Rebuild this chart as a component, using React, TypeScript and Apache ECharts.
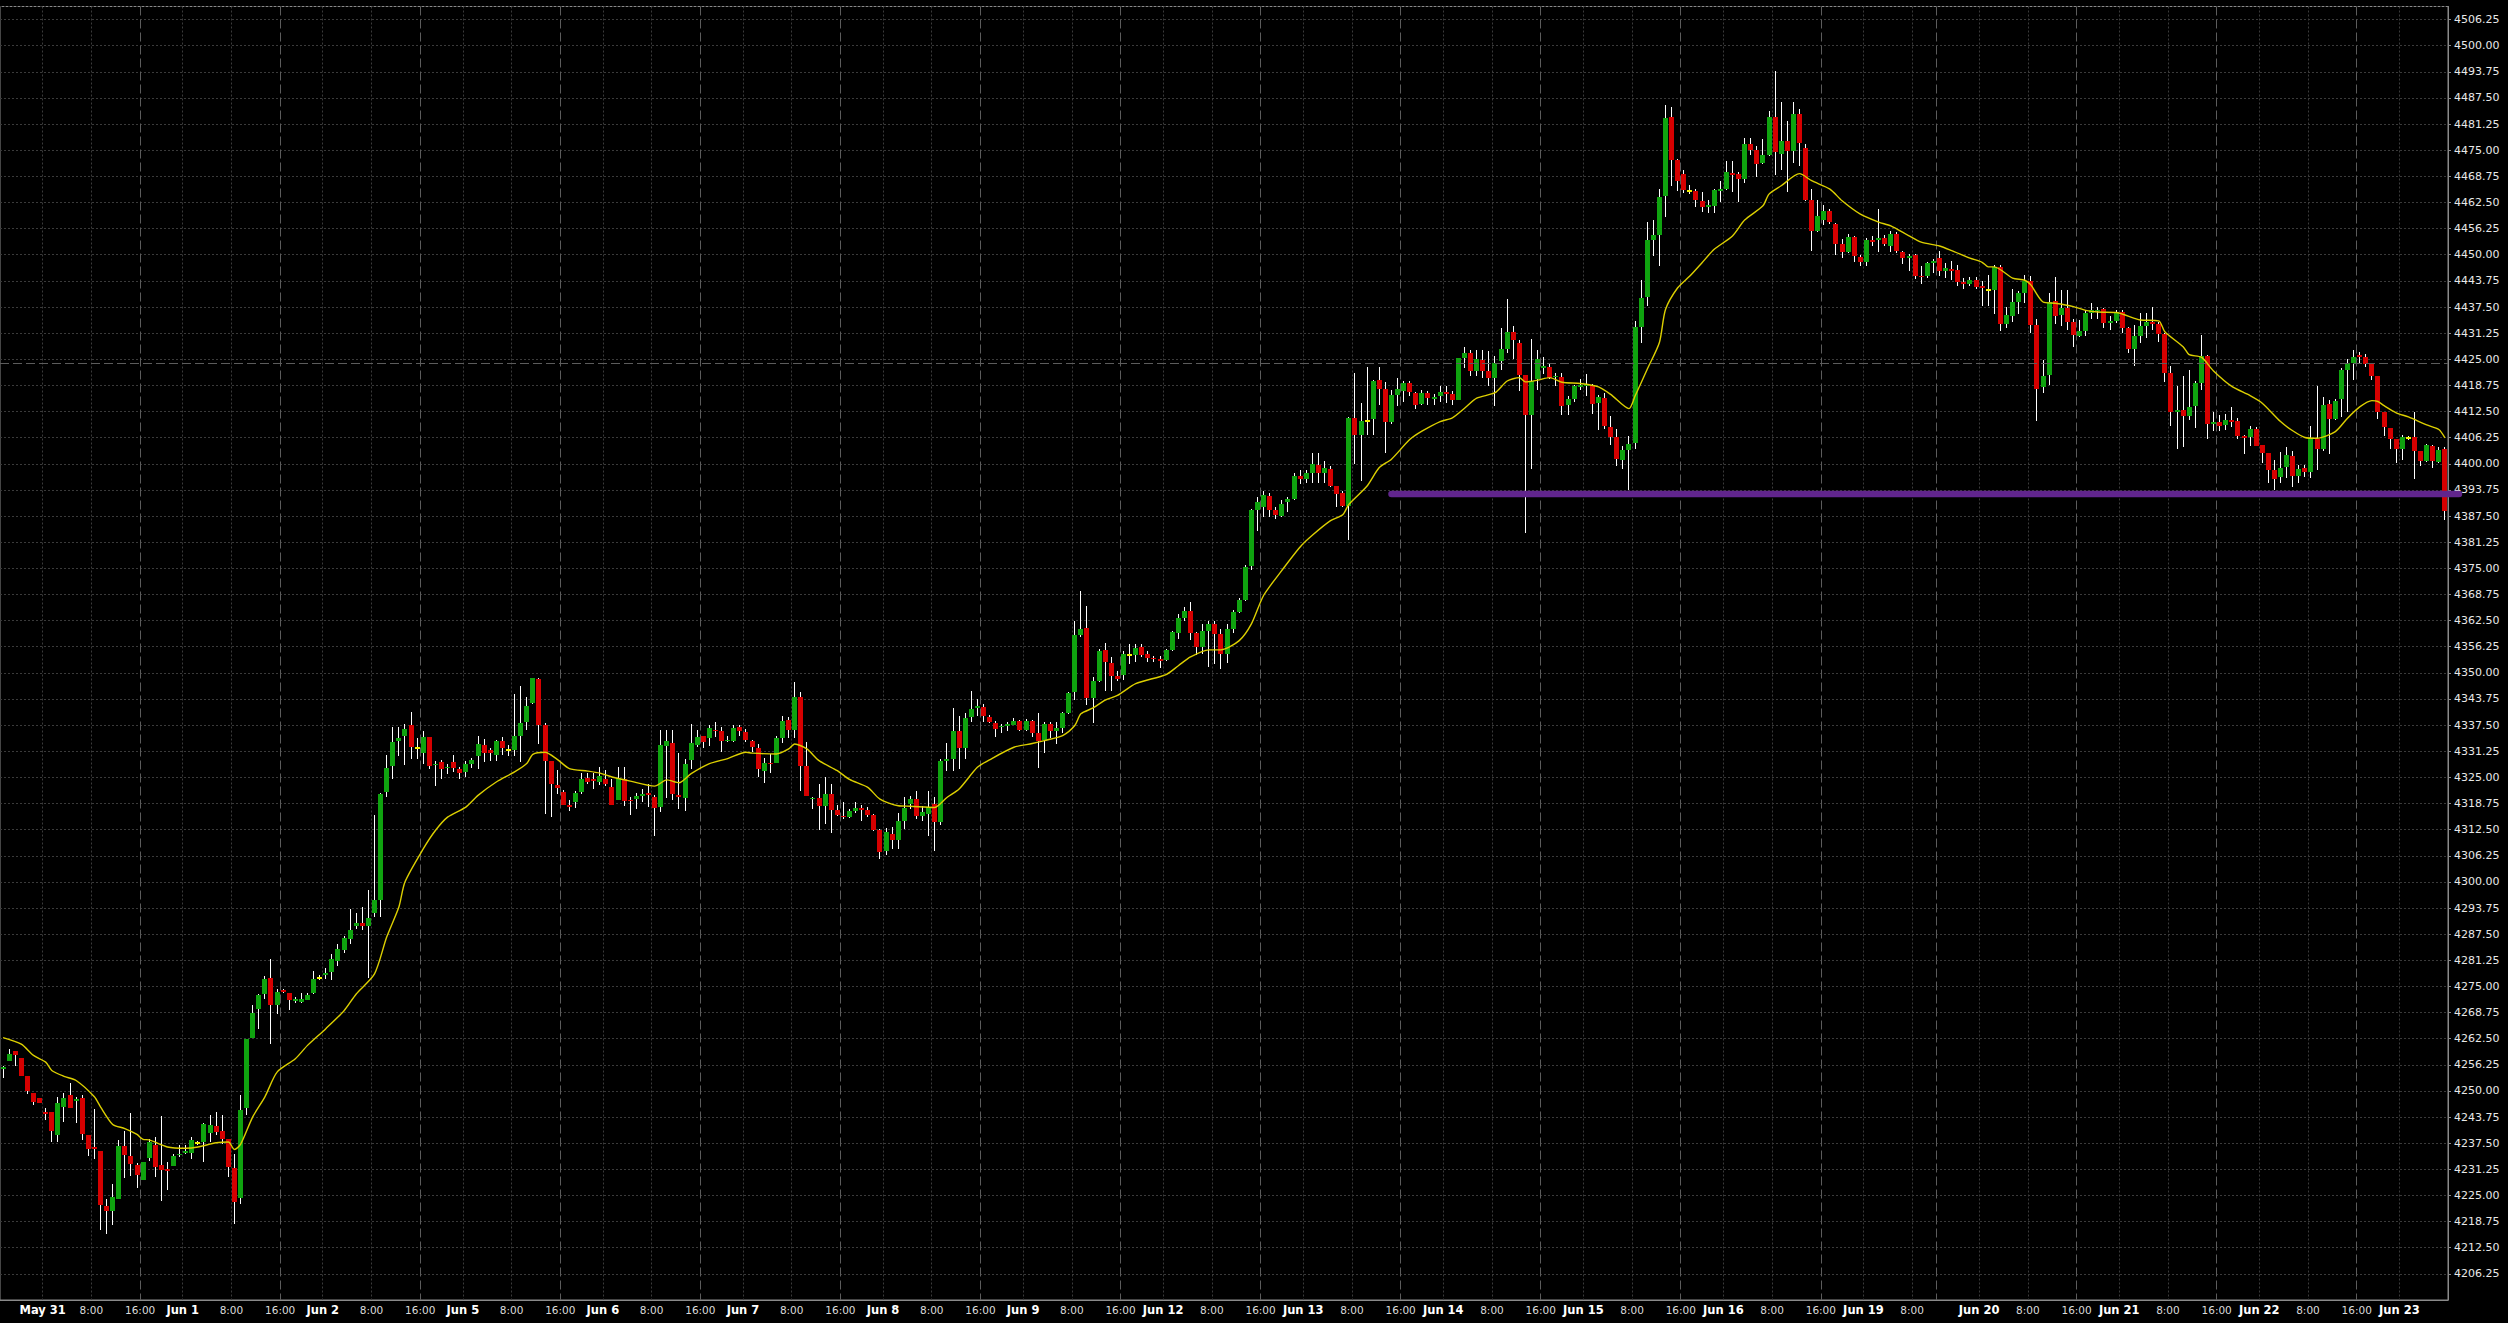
import React, { useEffect, useRef } from 'react';
import * as echarts from 'echarts';

// ---------- time axis (hourly bars) ----------
const dayLabels = ['May 31', 'Jun 1', 'Jun 2', 'Jun 5', 'Jun 6', 'Jun 7', 'Jun 8', 'Jun 9', 'Jun 12', 'Jun 13', 'Jun 14', 'Jun 15', 'Jun 16', 'Jun 19', 'Jun 20', 'Jun 21', 'Jun 22', 'Jun 23'];
const barsPerDay = [23, 23, 23, 23, 23, 23, 23, 23, 23, 23, 23, 23, 23, 19, 23, 23, 23, 8];
const sessionLineHour = [16, 16, 16, 16, 16, 16, 16, 16, 16, 16, 16, 16, 16, 12, 16, 16, 16, -1];
const leadingBars = 7; // May 30, 16:00 - 22:00

// ---------- price axis ----------
const yMin = 4200;
const yMax = 4509.375;
const yStep = 6.25;

// ---------- OHLC ----------
const open = [
  4255.25, 4257.25, 4259.5, 4258.0, 4253.5, 4249.5, 4248.25, 4245.0, 4245.0, 4239.5,
  4246.25, 4249.0, 4247.5, 4248.25, 4239.5, 4236.5, 4235.75, 4222.5, 4221.25, 4224.25,
  4236.75, 4234.5, 4232.25, 4228.75, 4234.0, 4237.0, 4232.25, 4231.25, 4232.0, 4234.75,
  4235.25, 4235.25, 4237.5, 4237.75, 4240.0, 4241.5, 4240.5, 4238.5, 4231.5, 4224.5,
  4246.0, 4262.75, 4269.5, 4273.25, 4277.0, 4270.5, 4274.25, 4273.5, 4271.5, 4271.25,
  4271.75, 4273.5, 4277.0, 4277.75, 4278.5, 4281.0, 4283.75, 4286.25, 4289.5, 4290.25,
  4289.5, 4292.5, 4295.75, 4321.5, 4327.75, 4333.75, 4335.0, 4337.5, 4332.0, 4330.75,
  4334.75, 4328.0, 4328.75, 4327.25, 4328.75, 4327.0, 4326.25, 4328.25, 4330.0, 4332.75,
  4331.5, 4330.25, 4333.75, 4331.5, 4331.5, 4335.0, 4338.25, 4342.75, 4348.5, 4337.5,
  4329.0, 4323.25, 4321.5, 4318.5, 4319.0, 4321.5, 4324.75, 4324.5, 4324.0, 4324.5,
  4322.75, 4319.5, 4324.5, 4319.5, 4319.75, 4320.5, 4321.25, 4320.25, 4318.0, 4332.5,
  4333.25, 4320.75, 4320.0, 4329.25, 4332.75, 4335.0, 4334.5, 4336.25, 4336.0, 4333.75,
  4333.75, 4337.0, 4335.75, 4333.75, 4332.0, 4326.5, 4328.5, 4328.5, 4334.5, 4338.75,
  4336.25, 4344.25, 4327.75, 4319.75, 4320.0, 4318.25, 4321.0, 4317.25, 4315.75, 4315.5,
  4317.0, 4317.75, 4317.25, 4316.0, 4312.5, 4307.5, 4311.5, 4310.0, 4314.5, 4318.75,
  4319.75, 4315.75, 4316.25, 4318.75, 4314.25, 4329.0, 4329.5, 4336.0, 4332.0, 4339.5,
  4341.5, 4341.75, 4339.5, 4338.0, 4337.0, 4337.25, 4337.5, 4338.5, 4336.25, 4338.5,
  4335.5, 4334.0, 4337.75, 4336.0, 4336.75, 4340.5, 4345.5, 4359.0, 4360.75, 4344.0,
  4348.0, 4355.5, 4352.25, 4349.25, 4349.5, 4354.25, 4354.25, 4356.25, 4354.5, 4353.5,
  4353.25, 4353.0, 4355.5, 4359.5, 4363.0, 4364.75, 4359.5, 4356.25, 4360.0, 4361.75,
  4359.25, 4354.5, 4360.5, 4364.5, 4367.5, 4375.5, 4389.0, 4389.75, 4392.25, 4389.0,
  4387.5, 4390.75, 4391.5, 4397.0, 4396.25, 4397.75, 4399.75, 4397.75, 4398.75, 4394.75,
  4393.0, 4390.0, 4411.0, 4407.0, 4410.25, 4410.75, 4420.0, 4418.0, 4410.0, 4416.5,
  4417.5, 4419.25, 4417.0, 4414.25, 4417.0, 4415.5, 4416.25, 4417.25, 4416.75, 4415.25,
  4425.25, 4426.5, 4422.25, 4424.75, 4422.25, 4420.5, 4424.5, 4427.5, 4431.5, 4429.0,
  4421.25, 4411.75, 4420.25, 4423.0, 4423.25, 4420.75, 4420.75, 4414.0, 4415.5, 4418.25,
  4418.5, 4418.75, 4414.5, 4415.75, 4408.75, 4406.5, 4401.0, 4403.25, 4405.0, 4432.75,
  4440.0, 4453.5, 4454.75, 4464.0, 4483.0, 4472.75, 4469.25, 4465.25, 4465.25, 4462.75,
  4461.5, 4461.75, 4465.25, 4465.75, 4469.5, 4469.25, 4468.0, 4476.5, 4475.0, 4472.0,
  4473.75, 4483.0, 4474.0, 4477.25, 4474.75, 4483.75, 4475.5, 4463.0, 4455.75, 4458.25,
  4460.5, 4457.25, 4452.5, 4450.75, 4454.25, 4449.5, 4448.25, 4453.5, 4453.5, 4454.0,
  4452.0, 4455.0, 4450.75, 4449.25, 4450.0, 4445.0, 4445.0, 4448.0, 4449.25, 4446.0,
  4446.5, 4446.25, 4443.5, 4443.0, 4444.0, 4442.5, 4441.5, 4441.5, 4447.0, 4433.5,
  4435.25, 4438.75, 4440.75, 4443.75, 4433.25, 4418.25, 4421.25, 4439.0, 4435.5, 4437.25,
  4434.0, 4430.5, 4431.75, 4436.0, 4436.5, 4437.0, 4433.75, 4434.25, 4436.25, 4432.5,
  4427.5, 4430.5, 4433.0, 4434.0, 4433.5, 4431.0, 4421.75, 4412.5, 4412.75, 4411.5,
  4413.75, 4419.25, 4425.75, 4409.5, 4410.0, 4409.25, 4410.5, 4410.25, 4406.75, 4406.5,
  4408.25, 4404.5, 4402.5, 4398.5, 4396.75, 4399.25, 4401.75, 4397.0, 4399.0, 4398.0,
  4406.0, 4403.5, 4414.25, 4410.75, 4415.5, 4422.5, 4424.0, 4426.0, 4425.5, 4423.75,
  4421.0, 4412.5, 4408.5, 4406.0, 4403.5, 4406.25, 4406.5, 4403.0, 4400.75, 4404.25,
  4400.5, 4403.5,
];
const high = [
  4256.0, 4260.0, 4259.5, 4258.0, 4253.5, 4249.5, 4248.25, 4246.0, 4245.0, 4248.5,
  4249.5, 4252.0, 4248.5, 4249.0, 4239.5, 4245.75, 4235.75, 4224.25, 4227.75, 4238.25,
  4240.5, 4244.75, 4232.75, 4233.0, 4238.5, 4239.0, 4244.0, 4233.0, 4235.0, 4237.0,
  4237.0, 4239.0, 4238.0, 4242.25, 4244.25, 4245.0, 4244.25, 4238.5, 4235.0, 4249.0,
  4262.5, 4270.5, 4273.25, 4277.5, 4281.5, 4274.5, 4274.5, 4273.5, 4272.5, 4273.5,
  4273.5, 4278.75, 4277.75, 4279.5, 4282.75, 4285.25, 4287.0, 4293.5, 4292.5, 4294.0,
  4298.0, 4316.0, 4321.25, 4330.25, 4337.0, 4337.0, 4337.75, 4340.75, 4334.5, 4336.0,
  4334.75, 4329.0, 4329.25, 4328.25, 4330.25, 4327.5, 4329.0, 4329.75, 4335.0, 4334.25,
  4332.0, 4334.0, 4334.75, 4332.75, 4345.0, 4346.75, 4344.25, 4348.75, 4348.75, 4338.0,
  4329.0, 4326.75, 4322.0, 4319.5, 4321.75, 4326.0, 4326.0, 4326.0, 4327.5, 4326.75,
  4324.5, 4327.5, 4327.5, 4320.25, 4321.25, 4322.25, 4323.5, 4320.75, 4336.25, 4336.25,
  4336.25, 4330.75, 4329.5, 4337.75, 4336.25, 4335.0, 4337.5, 4338.25, 4337.0, 4335.0,
  4337.5, 4337.5, 4336.5, 4334.0, 4333.0, 4329.75, 4330.5, 4335.0, 4339.75, 4339.5,
  4347.75, 4345.5, 4333.5, 4320.25, 4323.5, 4325.0, 4323.5, 4318.5, 4319.0, 4317.5,
  4319.0, 4318.5, 4318.0, 4316.25, 4312.75, 4313.0, 4313.25, 4316.5, 4320.25, 4320.5,
  4321.75, 4318.25, 4321.75, 4320.25, 4329.5, 4333.25, 4341.5, 4339.75, 4340.5, 4345.75,
  4343.75, 4342.5, 4340.0, 4338.5, 4337.75, 4338.25, 4339.25, 4338.75, 4339.0, 4338.75,
  4340.5, 4338.25, 4338.25, 4338.25, 4340.75, 4345.5, 4362.5, 4369.5, 4366.0, 4349.0,
  4355.75, 4357.25, 4353.75, 4350.5, 4355.25, 4357.0, 4357.0, 4357.0, 4355.25, 4354.0,
  4354.0, 4355.75, 4360.0, 4364.0, 4365.75, 4367.0, 4359.75, 4361.75, 4362.5, 4362.5,
  4360.5, 4361.75, 4365.0, 4368.0, 4375.75, 4389.25, 4392.0, 4393.5, 4393.0, 4389.75,
  4391.25, 4392.0, 4397.75, 4398.5, 4398.5, 4402.5, 4402.5, 4400.75, 4399.5, 4394.75,
  4393.5, 4411.25, 4421.75, 4414.5, 4423.25, 4420.0, 4423.25, 4419.5, 4417.75, 4420.5,
  4419.75, 4419.75, 4417.25, 4417.75, 4417.5, 4416.75, 4418.5, 4418.5, 4417.5, 4425.25,
  4428.0, 4427.25, 4427.25, 4427.25, 4427.0, 4425.75, 4432.5, 4439.5, 4433.0, 4429.5,
  4421.25, 4429.75, 4427.25, 4425.5, 4423.75, 4421.75, 4421.75, 4416.25, 4418.75, 4420.25,
  4421.5, 4419.0, 4416.5, 4417.0, 4411.5, 4408.25, 4404.25, 4406.75, 4434.25, 4444.0,
  4457.75, 4458.25, 4465.75, 4485.75, 4485.25, 4473.0, 4470.25, 4466.75, 4465.75, 4465.0,
  4463.0, 4465.75, 4467.75, 4472.5, 4472.5, 4469.75, 4478.0, 4478.0, 4476.0, 4477.75,
  4484.5, 4494.0, 4486.5, 4482.0, 4486.5, 4484.75, 4476.5, 4465.75, 4463.0, 4462.0,
  4461.0, 4457.5, 4453.75, 4455.0, 4454.5, 4450.0, 4454.0, 4454.5, 4461.0, 4454.75,
  4455.75, 4455.5, 4451.0, 4450.25, 4450.25, 4447.25, 4448.25, 4449.0, 4451.0, 4448.0,
  4448.5, 4447.5, 4444.5, 4444.75, 4444.75, 4443.75, 4445.25, 4447.5, 4447.5, 4437.5,
  4441.75, 4441.25, 4445.25, 4445.0, 4434.75, 4424.75, 4440.75, 4444.75, 4441.5, 4441.5,
  4434.75, 4434.5, 4436.75, 4438.5, 4437.5, 4437.25, 4435.25, 4436.75, 4436.75, 4432.75,
  4433.25, 4436.0, 4436.0, 4437.5, 4434.0, 4431.25, 4423.5, 4418.5, 4421.0, 4422.5,
  4419.75, 4430.75, 4426.0, 4412.5, 4411.75, 4412.0, 4413.5, 4411.0, 4407.0, 4409.0,
  4408.75, 4404.5, 4402.5, 4401.0, 4402.75, 4404.0, 4403.0, 4399.75, 4399.75, 4409.0,
  4418.5, 4416.0, 4415.25, 4415.5, 4423.0, 4425.0, 4427.25, 4426.75, 4426.25, 4423.75,
  4421.0, 4412.5, 4408.5, 4406.0, 4407.0, 4406.75, 4412.5, 4403.0, 4404.75, 4404.5,
  4404.0, 4404.0,
];
const low = [
  4253.0, 4257.25, 4256.0, 4253.5, 4249.25, 4246.75, 4247.0, 4243.0, 4237.75, 4237.75,
  4242.5, 4246.0, 4242.25, 4238.25, 4234.5, 4233.75, 4216.75, 4215.75, 4218.0, 4224.25,
  4229.25, 4229.75, 4226.75, 4228.75, 4233.25, 4229.5, 4223.75, 4226.25, 4232.0, 4234.25,
  4235.0, 4233.75, 4237.0, 4233.0, 4237.75, 4239.5, 4237.25, 4229.5, 4218.25, 4223.0,
  4244.25, 4262.75, 4264.75, 4272.0, 4261.25, 4268.5, 4273.5, 4269.25, 4271.0, 4271.0,
  4271.75, 4273.25, 4276.5, 4276.75, 4276.5, 4280.0, 4283.0, 4285.25, 4288.75, 4288.5,
  4277.0, 4291.5, 4291.5, 4320.25, 4324.5, 4330.0, 4328.0, 4329.5, 4329.5, 4328.25,
  4327.0, 4323.0, 4324.5, 4325.75, 4326.25, 4324.5, 4325.0, 4327.25, 4327.0, 4328.75,
  4329.0, 4329.0, 4330.25, 4330.0, 4330.0, 4328.75, 4336.25, 4342.5, 4333.0, 4316.25,
  4315.5, 4321.0, 4318.5, 4317.0, 4317.75, 4321.0, 4323.5, 4322.25, 4323.25, 4323.0,
  4318.5, 4319.5, 4318.25, 4316.0, 4317.5, 4319.0, 4318.0, 4311.0, 4316.75, 4320.0,
  4319.5, 4317.5, 4317.0, 4327.0, 4332.25, 4332.0, 4332.5, 4334.75, 4331.0, 4333.5,
  4333.5, 4335.0, 4333.5, 4331.0, 4325.0, 4323.75, 4326.0, 4328.5, 4333.25, 4334.5,
  4334.5, 4321.75, 4320.5, 4317.5, 4312.5, 4313.75, 4311.75, 4315.75, 4315.0, 4315.25,
  4316.5, 4314.5, 4315.5, 4312.25, 4305.5, 4306.5, 4307.75, 4307.75, 4312.75, 4317.5,
  4315.0, 4314.5, 4311.0, 4307.5, 4313.5, 4326.5, 4326.5, 4327.0, 4329.5, 4338.25,
  4339.75, 4338.25, 4338.0, 4334.75, 4335.5, 4336.0, 4337.5, 4336.0, 4336.0, 4334.75,
  4327.25, 4330.75, 4334.5, 4333.0, 4335.5, 4340.25, 4343.5, 4358.5, 4342.25, 4338.0,
  4347.75, 4345.75, 4345.75, 4348.0, 4348.25, 4352.0, 4352.5, 4353.75, 4352.5, 4352.5,
  4351.25, 4352.75, 4355.25, 4358.0, 4362.5, 4357.75, 4354.25, 4354.5, 4351.5, 4352.0,
  4351.0, 4352.25, 4359.5, 4364.25, 4367.25, 4374.5, 4384.0, 4387.25, 4387.25, 4386.75,
  4387.25, 4388.5, 4391.25, 4395.25, 4395.5, 4395.5, 4395.5, 4395.5, 4394.5, 4389.75,
  4389.75, 4381.75, 4400.0, 4396.0, 4407.0, 4407.0, 4414.0, 4402.5, 4409.5, 4413.75,
  4414.75, 4416.25, 4413.0, 4414.0, 4414.0, 4414.0, 4414.75, 4414.5, 4414.0, 4415.25,
  4423.0, 4421.0, 4421.0, 4420.5, 4418.5, 4413.75, 4422.5, 4426.5, 4425.0, 4417.5,
  4383.5, 4398.75, 4417.75, 4421.5, 4420.25, 4418.5, 4411.75, 4411.75, 4414.75, 4417.75,
  4416.25, 4412.0, 4408.0, 4408.25, 4404.5, 4399.5, 4398.75, 4393.75, 4403.5, 4429.0,
  4437.75, 4449.75, 4447.25, 4459.0, 4466.5, 4465.25, 4464.75, 4464.5, 4461.5, 4460.25,
  4460.0, 4460.0, 4462.5, 4465.5, 4465.0, 4462.5, 4467.25, 4473.75, 4468.5, 4471.75,
  4473.5, 4469.0, 4470.25, 4465.0, 4472.0, 4471.25, 4462.75, 4451.0, 4455.5, 4457.0,
  4457.25, 4450.0, 4449.25, 4450.5, 4448.25, 4447.25, 4447.25, 4452.0, 4450.75, 4452.0,
  4450.75, 4450.5, 4447.75, 4446.0, 4444.25, 4443.0, 4444.5, 4445.75, 4445.0, 4444.5,
  4444.0, 4442.5, 4441.75, 4442.5, 4441.75, 4437.75, 4437.75, 4435.75, 4431.75, 4432.5,
  4434.0, 4435.75, 4438.5, 4431.25, 4410.25, 4417.0, 4418.75, 4433.5, 4433.0, 4432.0,
  4428.0, 4430.25, 4430.5, 4434.75, 4434.75, 4432.5, 4432.0, 4433.75, 4431.25, 4426.5,
  4423.5, 4429.0, 4430.0, 4432.0, 4429.25, 4419.5, 4409.0, 4403.5, 4404.0, 4410.5,
  4408.5, 4417.75, 4406.0, 4407.75, 4407.75, 4408.0, 4408.75, 4406.0, 4402.25, 4404.25,
  4404.25, 4400.25, 4395.5, 4393.75, 4395.5, 4396.5, 4394.5, 4395.5, 4396.75, 4396.5,
  4398.5, 4403.0, 4402.25, 4410.5, 4411.25, 4412.5, 4420.0, 4423.75, 4423.25, 4420.0,
  4410.75, 4406.75, 4403.5, 4400.25, 4401.0, 4405.75, 4396.25, 4399.5, 4400.5, 4399.0,
  4400.25, 4386.5,
];
const close = [
  4255.75, 4258.75, 4258.5, 4253.5, 4250.0, 4247.25, 4247.0, 4244.5, 4240.5, 4247.0,
  4248.25, 4246.0, 4248.0, 4239.75, 4236.0, 4236.0, 4222.75, 4221.25, 4224.75, 4236.75,
  4234.75, 4232.5, 4230.0, 4233.0, 4237.75, 4231.75, 4231.0, 4230.75, 4234.5, 4235.0,
  4235.75, 4238.25, 4237.5, 4242.0, 4241.75, 4240.25, 4238.5, 4231.75, 4223.5, 4245.5,
  4262.5, 4268.75, 4273.0, 4276.75, 4270.5, 4273.75, 4273.75, 4271.75, 4272.0, 4272.0,
  4273.0, 4276.75, 4277.0, 4278.25, 4281.5, 4284.0, 4286.5, 4288.5, 4290.25, 4289.5,
  4291.25, 4295.75, 4321.0, 4327.25, 4333.5, 4334.5, 4336.5, 4332.25, 4332.0, 4334.75,
  4327.75, 4328.25, 4327.0, 4327.5, 4327.25, 4326.0, 4328.25, 4329.25, 4333.0, 4330.75,
  4330.75, 4333.75, 4332.0, 4331.5, 4335.0, 4338.0, 4342.0, 4348.75, 4337.5, 4329.0,
  4323.5, 4322.5, 4318.5, 4318.0, 4321.25, 4324.5, 4324.0, 4324.25, 4325.25, 4323.5,
  4318.5, 4324.75, 4319.25, 4319.25, 4320.5, 4321.0, 4320.75, 4317.75, 4332.75, 4333.75,
  4321.0, 4320.25, 4328.25, 4333.25, 4334.75, 4333.5, 4336.75, 4336.0, 4333.75, 4334.0,
  4336.75, 4336.0, 4334.0, 4332.25, 4327.0, 4328.5, 4328.25, 4334.5, 4338.5, 4336.25,
  4344.25, 4327.75, 4320.5, 4320.0, 4318.25, 4321.0, 4317.25, 4316.0, 4315.5, 4317.0,
  4317.75, 4317.25, 4316.0, 4312.5, 4307.25, 4312.0, 4310.0, 4314.5, 4317.75, 4319.75,
  4315.75, 4316.75, 4318.0, 4314.25, 4329.0, 4329.5, 4336.0, 4332.0, 4339.25, 4341.25,
  4342.0, 4339.75, 4338.25, 4336.5, 4337.25, 4337.75, 4338.5, 4336.25, 4338.5, 4335.5,
  4333.75, 4337.75, 4336.0, 4336.75, 4340.5, 4345.25, 4359.0, 4360.5, 4344.0, 4348.0,
  4355.25, 4352.5, 4349.25, 4348.5, 4354.5, 4354.25, 4356.0, 4354.25, 4353.5, 4353.25,
  4352.75, 4355.5, 4359.75, 4363.0, 4364.75, 4359.5, 4356.25, 4360.0, 4361.75, 4359.25,
  4354.5, 4360.5, 4364.5, 4367.5, 4375.25, 4389.0, 4390.75, 4392.5, 4389.0, 4387.75,
  4390.5, 4391.5, 4397.0, 4396.25, 4397.75, 4400.0, 4397.75, 4399.0, 4394.75, 4392.75,
  4390.0, 4411.0, 4407.0, 4410.25, 4410.25, 4419.75, 4418.0, 4410.0, 4416.5, 4418.0,
  4419.25, 4417.25, 4414.0, 4417.0, 4415.75, 4416.0, 4417.25, 4416.75, 4415.25, 4425.25,
  4426.5, 4422.25, 4425.0, 4422.25, 4420.5, 4424.0, 4427.5, 4431.5, 4429.5, 4421.25,
  4411.75, 4419.75, 4425.0, 4423.5, 4420.5, 4421.0, 4413.75, 4415.5, 4418.5, 4418.75,
  4419.0, 4414.25, 4416.0, 4409.0, 4406.5, 4401.25, 4403.25, 4404.75, 4432.75, 4439.75,
  4453.5, 4454.75, 4463.75, 4482.75, 4472.75, 4467.75, 4465.5, 4465.25, 4463.0, 4461.5,
  4462.0, 4465.5, 4465.75, 4469.75, 4469.0, 4468.0, 4476.5, 4475.0, 4471.75, 4473.75,
  4483.0, 4474.5, 4477.25, 4474.75, 4483.75, 4476.75, 4463.0, 4455.75, 4459.25, 4460.5,
  4457.75, 4452.5, 4450.75, 4454.25, 4449.75, 4448.25, 4453.5, 4453.0, 4454.0, 4452.5,
  4455.0, 4451.0, 4449.25, 4449.75, 4445.0, 4444.75, 4448.0, 4448.5, 4446.0, 4446.75,
  4446.0, 4443.5, 4443.0, 4444.0, 4442.25, 4442.0, 4441.5, 4447.0, 4433.5, 4435.5,
  4438.75, 4440.75, 4443.75, 4433.25, 4418.0, 4421.0, 4438.75, 4435.25, 4437.25, 4434.0,
  4430.75, 4431.75, 4436.0, 4436.75, 4436.75, 4433.75, 4434.25, 4436.25, 4432.5, 4427.5,
  4430.5, 4433.0, 4434.0, 4433.5, 4431.0, 4421.75, 4412.5, 4412.75, 4411.5, 4413.5,
  4419.25, 4425.75, 4409.5, 4410.0, 4409.0, 4410.5, 4410.0, 4406.75, 4406.25, 4408.25,
  4404.25, 4402.5, 4398.5, 4396.25, 4399.0, 4402.0, 4397.0, 4398.75, 4398.0, 4406.25,
  4403.5, 4414.0, 4410.75, 4415.0, 4422.5, 4424.0, 4425.5, 4425.5, 4423.75, 4421.0,
  4412.5, 4408.75, 4406.0, 4403.5, 4406.5, 4406.25, 4403.0, 4400.75, 4404.5, 4400.75,
  4403.25, 4388.75,
];

// ---------- moving average (at these bars) ----------
const maIndex = [
  0, 3, 5, 7, 8, 10, 12, 15, 16, 18, 20, 22, 23, 24, 27, 30, 32, 35, 37, 38, 39, 41, 43, 45, 48, 50, 53, 56, 58, 61,
  63, 65, 66, 69, 71, 73, 76, 78, 81, 84, 86, 87, 89, 91, 93, 96, 98, 100, 103, 107, 109, 111, 113, 116, 119, 122, 123, 127, 129, 130,
  132, 134, 137, 139, 142, 144, 147, 149, 153, 155, 157, 160, 162, 166, 169, 171, 174, 176, 177, 179, 181, 183, 186, 191, 193, 195, 198, 200, 203, 205,
  207, 210, 213, 215, 218, 220, 221, 224, 226, 228, 231, 233, 236, 238, 240, 242, 245, 247, 249, 250, 252, 254, 256, 259, 262, 264, 267, 268, 270, 272,
  273, 275, 277, 279, 281, 284, 286, 289, 290, 292, 295, 297, 300, 302, 305, 308, 310, 313, 315, 318, 320, 323, 325, 326, 327, 330, 332, 333, 335, 337,
  340, 342, 344, 347, 350, 351, 354, 355, 358, 359, 361, 363, 366, 369, 371, 374, 376, 378, 380, 383, 385, 387, 389, 390, 391, 393, 395, 398, 400, 401,
];
const maValue = [
  4262.75, 4261.2, 4258.5, 4256.9, 4254.9, 4253.5, 4252.5, 4248.6, 4246.2, 4242.0, 4241.0, 4239.6, 4238.4, 4238.3, 4236.6, 4236.3, 4236.6, 4237.6, 4237.8, 4236.0, 4237.2, 4243.8, 4248.6, 4254.5, 4257.7, 4260.9, 4264.9, 4269.2, 4273.2, 4278.0,
  4286.8, 4294.0, 4300.0, 4307.9, 4312.3, 4315.5, 4317.9, 4320.7, 4323.9, 4326.3, 4328.3, 4330.5, 4331.0, 4329.3, 4327.1, 4326.5, 4326.0, 4325.1, 4324.1, 4322.9, 4324.4, 4323.7, 4325.9, 4328.3, 4329.5, 4331.0, 4330.8, 4330.6, 4331.8, 4333.0,
  4331.8, 4329.0, 4326.6, 4324.5, 4322.6, 4319.8, 4318.2, 4318.1, 4317.8, 4320.2, 4322.2, 4327.4, 4329.2, 4332.2, 4333.1, 4333.8, 4335.0, 4337.4, 4340.2, 4341.6, 4343.5, 4344.6, 4347.4, 4349.6, 4351.7, 4353.8, 4355.5, 4355.5, 4357.7, 4361.7,
  4368.5, 4374.5, 4380.1, 4382.9, 4386.4, 4387.8, 4390.3, 4394.7, 4399.1, 4401.1, 4405.8, 4407.8, 4410.1, 4411.0, 4413.3, 4415.7, 4417.0, 4419.8, 4420.6, 4419.6, 4420.0, 4420.6, 4419.5, 4419.2, 4418.4, 4416.6, 4413.2, 4416.2, 4422.6, 4429.0,
  4436.9, 4442.1, 4444.9, 4448.1, 4451.3, 4454.5, 4458.3, 4461.7, 4464.5, 4466.5, 4469.4, 4467.7, 4465.7, 4462.9, 4459.7, 4457.8, 4456.9, 4454.5, 4453.0, 4452.1, 4451.0, 4449.2, 4448.2, 4447.1, 4447.1, 4444.4, 4443.9, 4442.8, 4438.7, 4438.4,
  4437.6, 4436.7, 4436.3, 4436.2, 4434.8, 4434.4, 4434.2, 4431.6, 4428.0, 4426.1, 4425.5, 4422.2, 4418.5, 4416.3, 4414.5, 4410.1, 4407.9, 4406.3, 4406.1, 4407.7, 4410.9, 4413.6, 4415.1, 4414.9, 4413.9, 4412.2, 4411.2, 4409.3, 4408.2, 4406.2,
];

// ---------- annotations ----------
const refLevel = 4424.0; // grey dashed reference line
const supportLevel = 4392.8; // purple horizontal line
const supportStartIndex = 228;
const supportEndIndex = 403.3;

const COLORS = {
  bg: '#000000',
  frame: '#8a8a8a',
  grid: '#3a3a3a',
  session: '#5c5c5c',
  up: '#0fa30f',
  down: '#d60000',
  wick: '#ffffff',
  doji: '#f2f200',
  ma: '#dccf00',
  purple: '#61258d',
  label: '#e8e8e8',
};

export default function App() {
  const ref = useRef<HTMLDivElement>(null);

  useEffect(() => {
    if (!ref.current) return;
    const chart = echarts.init(ref.current, null, { renderer: 'svg' });

    // categories & axis texts
    const cats: string[] = [];
    const texts: string[] = [];
    const dotted = new Set<number>();
    const dashed = new Set<number>();
    for (let h = 23 - leadingBars; h < 23; h++) {
      cats.push('May 30 ' + h + ':00');
      texts.push('');
    }
    dayLabels.forEach((d, k) => {
      for (let h = 0; h < barsPerDay[k]; h++) {
        const idx = cats.length;
        cats.push(d + ' ' + h + ':00');
        let t = '';
        if (h === 0) {
          t = d;
          dotted.add(idx);
        } else if (h === 8) {
          t = '8:00';
          dotted.add(idx);
        } else if (h === 16 && barsPerDay[k] === 23) {
          t = '16:00';
        }
        if (h === sessionLineHour[k]) dashed.add(idx);
        texts.push(t);
      }
    });

    const n = open.length;
    const candleData = open.map((o, i) => [i, o, close[i], low[i], high[i]]);
    const maData = maIndex.map((x, k) => [x, maValue[k]]);

    const renderItem = (params: any, api: any) => {
      const idx = api.value(0);
      const o = api.value(1);
      const c = api.value(2);
      const l = api.value(3);
      const h = api.value(4);
      const pO = api.coord([idx, o]);
      const pC = api.coord([idx, c]);
      const pL = api.coord([idx, l]);
      const pH = api.coord([idx, h]);
      const band = api.size([1, 0])[0];
      const bw = Math.max(1, Math.round(band) - 1);
      const left = Math.round(pO[0] - bw / 2);
      const wx = left + Math.floor(bw / 2) + 0.5;
      const top = Math.min(pO[1], pC[1]);
      const bot = Math.max(pO[1], pC[1]);
      const children: any[] = [
        {
          type: 'line',
          shape: { x1: wx, y1: Math.round(pH[1]), x2: wx, y2: Math.round(pL[1]) },
          style: { stroke: COLORS.wick, lineWidth: 1 },
        },
      ];
      if (o === c) {
        children.push({
          type: 'rect',
          shape: { x: left, y: Math.round(top) - 1, width: bw, height: 2 },
          style: { fill: COLORS.doji },
        });
      } else {
        const yTop = Math.round(top);
        const hgt = Math.max(1, Math.round(bot) - yTop);
        children.push({
          type: 'rect',
          shape: { x: left, y: yTop, width: bw, height: hgt },
          style: { fill: c > o ? COLORS.up : COLORS.down },
        });
      }
      return { type: 'group', children };
    };

    const labelFont = "'DejaVu Sans', 'Liberation Sans', sans-serif";

    chart.setOption({
      animation: false,
      backgroundColor: COLORS.bg,
      grid: {
        left: 0,
        right: 60,
        top: 6.5,
        bottom: 23,
        show: true,
        borderColor: COLORS.frame,
        borderWidth: 1,
        backgroundColor: COLORS.bg,
      },
      xAxis: [
        {
          type: 'category',
          data: cats,
          boundaryGap: true,
          position: 'bottom',
          axisLine: { show: true, lineStyle: { color: COLORS.frame, width: 1 } },
          axisTick: { show: false },
          axisLabel: {
            interval: 0,
            margin: 4,
            padding: [0, 6, 0, 0],
            formatter: (_v: string, i: number) => {
              const t = texts[i];
              if (!t) return '';
              return t.indexOf(':') >= 0 ? '{h|' + t + '}' : '{d|' + t + '}';
            },
            rich: {
              d: { fontFamily: labelFont, fontWeight: 'bold', fontSize: 11.5, color: '#ffffff' },
              h: { fontFamily: labelFont, fontSize: 10.5, color: '#dcdcdc' },
            },
          },
          splitLine: {
            show: true,
            interval: (i: number) => dotted.has(i),
            lineStyle: { color: COLORS.grid, type: [2, 2], width: 1 },
          },
        },
        {
          type: 'category',
          data: cats,
          boundaryGap: true,
          position: 'bottom',
          axisLine: { show: false },
          axisTick: { show: false },
          axisLabel: { show: false },
          splitLine: {
            show: true,
            interval: (i: number) => dashed.has(i),
            lineStyle: { color: COLORS.session, type: [9, 4], width: 1 },
          },
        },
      ],
      yAxis: {
        type: 'value',
        position: 'right',
        min: yMin,
        max: yMax,
        interval: yStep,
        axisLine: { show: true, lineStyle: { color: COLORS.frame, width: 1 } },
        axisTick: { show: true, length: 3, lineStyle: { color: COLORS.frame } },
        axisLabel: {
          color: COLORS.label,
          fontFamily: labelFont,
          fontSize: 11,
          margin: 6,
          showMinLabel: false,
          showMaxLabel: false,
          formatter: (v: number) => v.toFixed(2),
        },
        splitLine: { show: true, lineStyle: { color: COLORS.grid, type: [2, 2], width: 1 } },
      },
      series: [
        {
          name: 'ref',
          type: 'line',
          data: [[0, refLevel], [n - 1, refLevel]],
          symbol: 'none',
          lineStyle: { opacity: 0 },
          silent: true,
          z: 1,
          markLine: {
            silent: true,
            symbol: ['none', 'none'],
            label: { show: false },
            lineStyle: { color: COLORS.session, type: [9, 4], width: 1 },
            data: [{ yAxis: refLevel }],
          },
        },
        {
          name: 'ES',
          type: 'custom',
          renderItem,
          data: candleData,
          encode: { x: 0, y: [1, 2, 3, 4] },
          z: 2,
        },
        {
          name: 'MA',
          type: 'line',
          data: maData,
          showSymbol: false,
          symbol: 'none',
          smooth: 0.25,
          lineStyle: { color: COLORS.ma, width: 1.4 },
          z: 3,
          silent: true,
        },
      ],
    });

    // purple support line, positioned through the axes
    const y = chart.convertToPixel({ yAxisIndex: 0 }, supportLevel) as number;
    const xs = chart.convertToPixel({ xAxisIndex: 0 }, supportStartIndex) as number;
    const xa = chart.convertToPixel({ xAxisIndex: 0 }, n - 1) as number;
    const xb = chart.convertToPixel({ xAxisIndex: 0 }, n - 2) as number;
    const xe = xa + (xa - xb) * (supportEndIndex - (n - 1));
    chart.setOption({
      graphic: [
        {
          type: 'line',
          z: 50,
          silent: true,
          shape: { x1: xs, y1: y, x2: xe, y2: y },
          style: { stroke: COLORS.purple, lineWidth: 6.5, lineCap: 'round' },
        },
      ],
    });

    return () => {
      chart.dispose();
    };
  }, []);

  return (
    <div
      ref={ref}
      style={{ position: 'fixed', left: 0, top: 0, width: 2508, height: 1323, background: '#000' }}
    />
  );
}
